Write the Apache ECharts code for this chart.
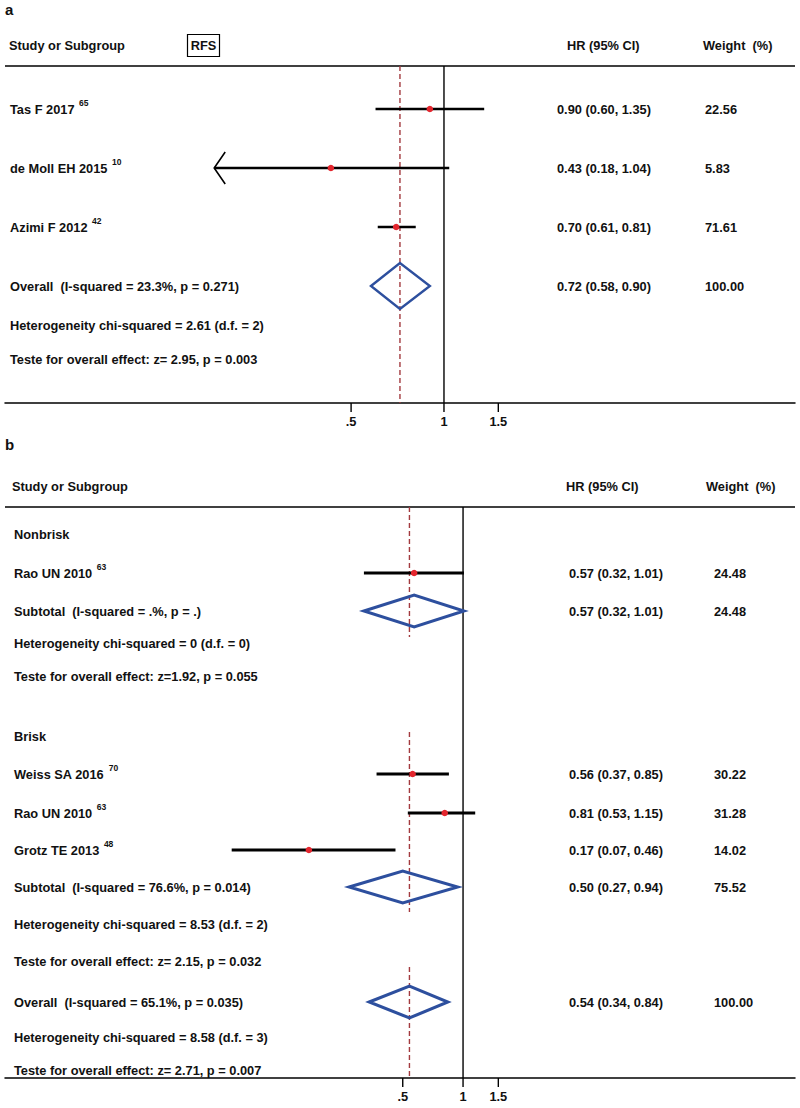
<!DOCTYPE html>
<html><head><meta charset="utf-8">
<script src="https://cdn.jsdelivr.net/npm/echarts@6/dist/echarts.min.js"></script>
<style>html,body{margin:0;padding:0;background:#fff}#c{width:800px;height:1108px}</style>
</head><body><div id="c"></div>
<script>
// ================= DATA =================
// Panel a (RFS)
const studiesA = ['Tas F 2017', 'de Moll EH 2015', 'Azimi F 2012'];
const refsA = ['65', '10', '42'];
const hrA = [0.90, 0.43, 0.70];
const lowA = [0.60, 0.18, 0.61];
const highA = [1.35, 1.04, 0.81];
const weightA = [22.56, 5.83, 71.61];
const overallA = [0.72, 0.58, 0.90];          // HR, low, high
const overallWeightA = 100.00;
const overallLabelA = 'Overall\u00a0 (I-squared = 23.3%, p = 0.271)';
const hetA = 'Heterogeneity chi-squared = 2.61 (d.f. = 2)';
const testA = 'Teste for overall effect: z= 2.95, p = 0.003';

// Panel b
const groupsB = ['Nonbrisk', 'Brisk'];
const studiesB = ['Rao UN 2010', 'Weiss SA 2016', 'Rao UN 2010', 'Grotz TE 2013'];
const studyGroupB = [0, 1, 1, 1];
const refsB = ['63', '70', '63', '48'];
const hrB = [0.57, 0.56, 0.81, 0.17];
const lowB = [0.32, 0.37, 0.53, 0.07];
const highB = [1.01, 0.85, 1.15, 0.46];
const weightB = [24.48, 30.22, 31.28, 14.02];
const subHrB = [0.57, 0.50];
const subLowB = [0.32, 0.27];
const subHighB = [1.01, 0.94];
const subWeightB = [24.48, 75.52];
const subLabelB = ['Subtotal\u00a0 (I-squared = .%, p = .)', 'Subtotal\u00a0 (I-squared = 76.6%, p = 0.014)'];
const subHetB = ['Heterogeneity chi-squared = 0 (d.f. = 0)', 'Heterogeneity chi-squared = 8.53 (d.f. = 2)'];
const subTestB = ['Teste for overall effect: z=1.92, p = 0.055', 'Teste for overall effect: z= 2.15, p = 0.032'];
const overallB = [0.54, 0.34, 0.84];
const overallWeightB = 100.00;
const overallLabelB = 'Overall\u00a0 (I-squared = 65.1%, p = 0.035)';
const hetB = 'Heterogeneity chi-squared = 8.58 (d.f. = 3)';
const testB = 'Teste for overall effect: z= 2.71, p = 0.007';

const tickValues = [0.5, 1, 1.5];
const tickLabels = ['.5', '1', '1.5'];

// ================= LAYOUT / STYLE =================
const FONT = '"Liberation Sans", Arial, Helvetica, sans-serif';
const FS = 12.8;
const SUPFS = 8.5;
const RED = '#e3262e';
const BLUE = '#2d4f9e';
const DASH = '#a33a3f';
const INK = '#111';

const layoutA = {
  grid: {left: 5, right: 5, top: 66, height: 337},
  xRange: [0.03778, 13.73],     // log scale extent
  clipLow: 0.18,               // lower display limit (arrow)
  yStudies: [43, 102, 161], yOverall: 220, yHet: 259, yTest: 293,
  dashSegs: [[0, 337]],
  labelX: 10, hrX: 557, wX: 705,
  ciW: 2.4, dotR: 3.3, diaH: 23, diaW: 2.4
};
const layoutB = {
  grid: {left: 5, right: 5, top: 507, height: 571},
  xRange: [0.00517, 45.4],
  clipLow: 0.005,
  yGroups: [27, 229], yStudies: [66, 267, 306, 343],
  ySub: [104, 380], ySubHet: [136, 417], ySubTest: [169, 454],
  yOverall: 495, yHet: 530, yTest: 563,
  dashSegs: [[0, 130], [225, 405], [460, 571]],
  labelX: 14, hrX: 569, wX: 714,
  ciW: 3.1, dotR: 3.3, diaH: 16, diaW: 3
};

// ================= ROWS (built from data) =================
const rowsA = [];
studiesA.forEach((s, i) => rowsA.push({kind: 'study', label: s, sup: refsA[i], hr: hrA[i], low: lowA[i], high: highA[i], weight: weightA[i], y: layoutA.yStudies[i]}));
rowsA.push({kind: 'diamond', label: overallLabelA, hr: overallA[0], low: overallA[1], high: overallA[2], weight: overallWeightA, y: layoutA.yOverall});
rowsA.push({kind: 'text', label: hetA, y: layoutA.yHet});
rowsA.push({kind: 'text', label: testA, y: layoutA.yTest});

const rowsB = [];
groupsB.forEach((g, gi) => {
  rowsB.push({kind: 'text', label: g, y: layoutB.yGroups[gi]});
  studiesB.forEach((s, i) => {
    if (studyGroupB[i] !== gi) return;
    rowsB.push({kind: 'study', label: s, sup: refsB[i], hr: hrB[i], low: lowB[i], high: highB[i], weight: weightB[i], y: layoutB.yStudies[i]});
  });
  rowsB.push({kind: 'diamond', label: subLabelB[gi], hr: subHrB[gi], low: subLowB[gi], high: subHighB[gi], weight: subWeightB[gi], y: layoutB.ySub[gi]});
  rowsB.push({kind: 'text', label: subHetB[gi], y: layoutB.ySubHet[gi]});
  rowsB.push({kind: 'text', label: subTestB[gi], y: layoutB.ySubTest[gi]});
});
rowsB.push({kind: 'diamond', label: overallLabelB, hr: overallB[0], low: overallB[1], high: overallB[2], weight: overallWeightB, y: layoutB.yOverall});
rowsB.push({kind: 'text', label: hetB, y: layoutB.yHet});
rowsB.push({kind: 'text', label: testB, y: layoutB.yTest});

const f2 = v => v.toFixed(2);
const measureCtx = document.createElement('canvas').getContext('2d');
function textWidth(t, size) {
  measureCtx.font = 'bold ' + size + 'px ' + FONT;
  return measureCtx.measureText(t).width;
}

function textEl(x, y, text, extra) {
  return {type: 'text', x: x, y: y, silent: true,
    style: Object.assign({text: text, fill: INK, fontFamily: FONT, fontWeight: 'bold', fontSize: FS,
      align: 'left', verticalAlign: 'middle'}, extra || {})};
}

function rowRenderer(rows, L) {
  return function (params, api) {
    const r = rows[params.dataIndex];
    const y = api.coord([1, r.y])[1];
    const ch = [];
    ch.push(textEl(L.labelX, y, r.label));
    if (r.sup) {
      const sx = L.labelX + textWidth(r.label + ' ', FS) + 1;
      ch.push(textEl(sx, y - 6, r.sup, {fontSize: SUPFS}));
    }
    if (r.hr != null) {
      ch.push(textEl(L.hrX, y, f2(r.hr) + ' (' + f2(r.low) + ', ' + f2(r.high) + ')'));
      ch.push(textEl(L.wX, y, f2(r.weight)));
      const lowShown = Math.max(r.low, L.clipLow);
      const xl = api.coord([lowShown, r.y])[0];
      const xh = api.coord([r.high, r.y])[0];
      const xm = api.coord([r.hr, r.y])[0];
      if (r.kind === 'study') {
        ch.push({type: 'line', shape: {x1: xl, y1: y, x2: xh, y2: y}, style: {stroke: '#000', lineWidth: L.ciW}});
        if (r.low <= L.clipLow) {
          ch.push({type: 'polyline', shape: {points: [[xl + 11, y - 16], [xl, y], [xl + 11, y + 16]]},
            style: {stroke: '#000', lineWidth: 1.6, fill: null}});
        }
        ch.push({type: 'circle', shape: {cx: xm, cy: y, r: L.dotR}, style: {fill: RED}});
      } else {
        ch.push({type: 'polygon', shape: {points: [[xl, y], [xm, y - L.diaH], [xh, y], [xm, y + L.diaH]]},
          style: {fill: null, stroke: BLUE, lineWidth: L.diaW, lineJoin: 'miter'}});
      }
    }
    return {type: 'group', children: ch};
  };
}

function decorRenderer(L, overallHr) {
  return function (params, api) {
    const cs = params.coordSys;
    const ch = [];
    const top = cs.y, bot = cs.y + cs.height;
    ch.push({type: 'line', shape: {x1: cs.x, y1: top, x2: cs.x + cs.width, y2: top}, style: {stroke: '#000', lineWidth: 1.5}});
    const x1 = api.coord([1, 0])[0];
    ch.push({type: 'line', shape: {x1: x1, y1: top, x2: x1, y2: bot}, style: {stroke: '#000', lineWidth: 1.4}});
    const xo = api.coord([overallHr, 0])[0];
    L.dashSegs.forEach(s => {
      const ya = api.coord([1, s[0]])[1], yb = api.coord([1, s[1]])[1];
      ch.push({type: 'line', shape: {x1: xo, y1: ya, x2: xo, y2: yb}, style: {stroke: DASH, lineWidth: 1.4, lineDash: [5, 3]}});
    });
    tickValues.forEach((v, i) => {
      const xt = api.coord([v, 0])[0];
      ch.push({type: 'line', shape: {x1: xt, y1: bot, x2: xt, y2: bot + 9}, style: {stroke: '#000', lineWidth: 1.4}});
      ch.push(textEl(xt, bot + 18, tickLabels[i], {align: 'center'}));
    });
    return {type: 'group', children: ch};
  };
}

function axesFor(L, idx) {
  return {
    x: {type: 'log', gridIndex: idx, min: L.xRange[0], max: L.xRange[1],
      axisLine: {show: true, onZero: false, lineStyle: {color: '#000', width: 1.5}},
      axisTick: {show: false}, axisLabel: {show: false}, splitLine: {show: false}},
    y: {type: 'value', gridIndex: idx, inverse: true, min: 0, max: L.grid.height, show: false}
  };
}
const axA = axesFor(layoutA, 0), axB = axesFor(layoutB, 1);
const HF = 'bold ' + FS + 'px ' + FONT;

const option = {
  animation: false,
  backgroundColor: '#fff',
  grid: [layoutA.grid, layoutB.grid],
  xAxis: [axA.x, axB.x],
  yAxis: [axA.y, axB.y],
  graphic: [
    {type: 'text', left: 5, top: 2, style: {text: 'a', font: 'bold 15px ' + FONT, fill: INK}},
    {type: 'text', x: 9, y: 45, style: {text: 'Study or Subgroup', fill: INK, font: HF, verticalAlign: 'middle'}},
    {type: 'rect', shape: {x: 187.5, y: 34.5, width: 32, height: 22}, style: {fill: null, stroke: '#000', lineWidth: 1.2}},
    {type: 'text', x: 203.5, y: 45.5, style: {text: 'RFS', fill: INK, font: HF, align: 'center', verticalAlign: 'middle'}},
    {type: 'text', x: 567, y: 45, style: {text: 'HR (95% CI)', fill: INK, font: HF, verticalAlign: 'middle'}},
    {type: 'text', x: 703, y: 45, style: {text: 'Weight\u00a0 (%)', fill: INK, font: HF, verticalAlign: 'middle'}},
    {type: 'text', left: 5, top: 437, style: {text: 'b', font: 'bold 15px ' + FONT, fill: INK}},
    {type: 'text', x: 12, y: 486, style: {text: 'Study or Subgroup', fill: INK, font: HF, verticalAlign: 'middle'}},
    {type: 'text', x: 566, y: 486, style: {text: 'HR (95% CI)', fill: INK, font: HF, verticalAlign: 'middle'}},
    {type: 'text', x: 706, y: 486, style: {text: 'Weight\u00a0 (%)', fill: INK, font: HF, verticalAlign: 'middle'}}
  ],
  series: [
    {type: 'custom', xAxisIndex: 0, yAxisIndex: 0, data: [[1, 0]], renderItem: decorRenderer(layoutA, overallA[0]), z: 1, silent: true},
    {type: 'custom', xAxisIndex: 0, yAxisIndex: 0, data: rowsA.map(r => [r.hr != null ? r.hr : 1, r.y]),
      encode: {x: 0, y: 1}, renderItem: rowRenderer(rowsA, layoutA), z: 2, silent: true},
    {type: 'custom', xAxisIndex: 1, yAxisIndex: 1, data: [[1, 0]], renderItem: decorRenderer(layoutB, overallB[0]), z: 1, silent: true},
    {type: 'custom', xAxisIndex: 1, yAxisIndex: 1, data: rowsB.map(r => [r.hr != null ? r.hr : 1, r.y]),
      encode: {x: 0, y: 1}, renderItem: rowRenderer(rowsB, layoutB), z: 2, silent: true}
  ]
};

const chart = echarts.init(document.getElementById('c'), null, {renderer: 'svg'});
chart.setOption(option);
</script>
</body></html>
